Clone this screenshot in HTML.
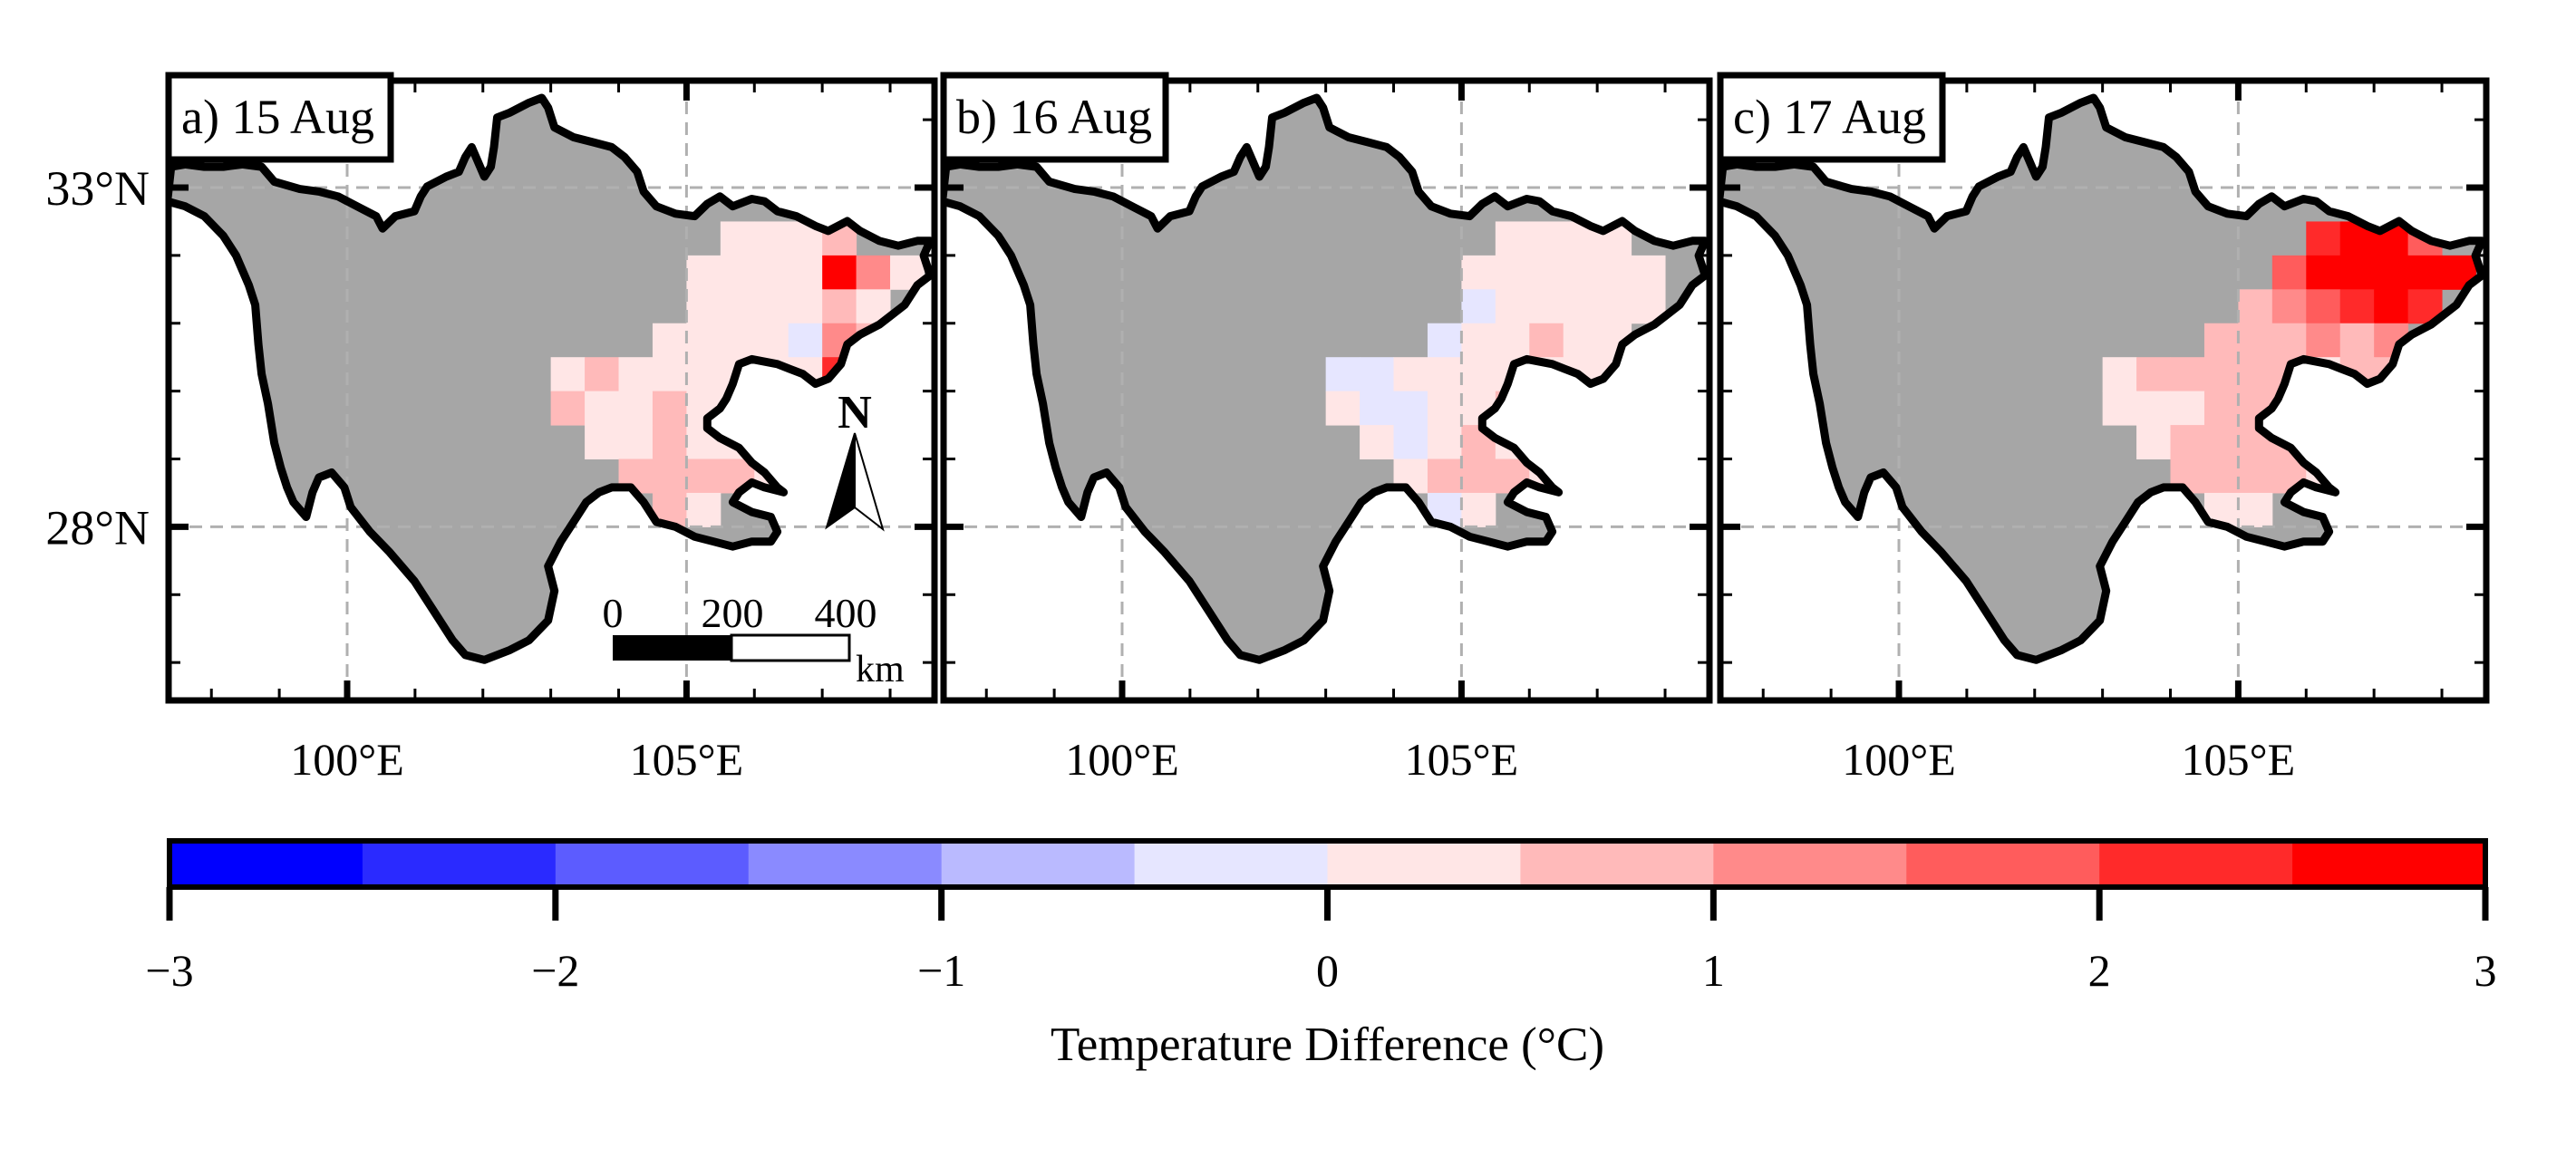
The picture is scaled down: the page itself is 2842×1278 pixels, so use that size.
<!DOCTYPE html>
<html><head><meta charset="utf-8">
<style>
html,body{margin:0;padding:0;background:#fff;}
svg{display:block;font-family:"Liberation Serif","DejaVu Serif",serif;}
</style></head>
<body>
<svg id="fig" width="2842" height="1278" viewBox="0 0 2842 1278" xmlns="http://www.w3.org/2000/svg"></svg>
<script>
// ---- data ----
const cellLons = [103,103.5,104,104.5,105,105.5,106,106.5,107,107.5,108,108.5];
const cellLats = [32.5,32,31.5,31,30.5,30,29.5,29,28.5];
const n = null;
const panelTitles = ["a) 15 Aug","b) 16 Aug","c) 17 Aug"];
const valuesA = [
 [n,n,n,n,n,0.2,0.2,0.3,0.8,n,n,n],
 [n,n,n,n,0.2,0.2,0.2,0.3,2.7,1.2,0.3,n],
 [n,n,n,n,0.2,0.2,0.2,0.3,0.8,0.3,n,n],
 [n,n,n,0.2,0.3,0.2,0.2,-0.2,1.3,0.8,n,n],
 [0.3,0.6,0.3,0.2,0.2,0.3,0.2,0.3,2.2,n,n,n],
 [0.6,0.3,0.2,0.6,0.2,0.3,0.2,n,n,n,n,n],
 [n,0.2,0.3,0.6,0.3,0.2,0.6,n,n,n,n,n],
 [n,n,0.6,0.6,0.6,0.7,0.3,n,n,n,n,n],
 [n,n,n,0.6,0.3,n,n,n,n,n,n,n]];
const valuesB = [
 [n,n,n,n,n,0.2,0.2,0.2,0.2,n,n,n],
 [n,n,n,n,0.2,0.2,0.2,0.2,0.2,0.2,n,n],
 [n,n,n,n,-0.2,0.2,0.2,0.2,0.2,0.2,n,n],
 [n,n,n,-0.2,0.2,0.2,0.6,0.2,0.2,n,n,n],
 [-0.2,-0.2,0.2,0.2,0.2,0.2,0.2,0.2,0.2,n,n,n],
 [0.2,-0.2,-0.2,0.2,0.2,0.6,0.2,n,n,n,n,n],
 [n,0.2,-0.2,0.2,0.6,0.2,0.2,n,n,n,n,n],
 [n,n,0.2,0.6,0.6,0.6,0.2,n,n,n,n,n],
 [n,n,n,-0.2,0.2,n,n,n,n,n,n,n]];
const valuesC = [
 [n,n,n,n,n,n,2.2,2.7,2.7,1.7,n,n],
 [n,n,n,n,n,1.7,2.7,2.7,2.7,2.7,2.7,n],
 [n,n,n,n,0.8,1.2,1.7,2.2,2.7,2.2,n,n],
 [n,n,n,0.6,0.8,0.6,1.2,0.6,1.2,n,n,n],
 [0.3,0.6,0.6,0.6,0.6,0.6,0.3,0.6,0.6,n,n,n],
 [0.2,0.3,0.3,0.6,0.6,0.6,0.3,n,n,n,n,n],
 [n,0.3,0.6,0.6,0.8,0.6,0.3,n,n,n,n,n],
 [n,n,0.6,0.6,0.8,0.6,0.3,n,n,n,n,n],
 [n,n,n,0.2,0.3,n,n,n,n,n,n,n]];
const panelValues = [valuesA,valuesB,valuesC];
const cbTicks = [-3,-2,-1,0,1,2,3];
const cbTickLabels = ["\u22123","\u22122","\u22121","0","1","2","3"];
const binColors = ['#0000ff','#2a2aff','#5c5cff','#8a8aff','#babaff','#e6e6ff','#ffe6e6','#ffbaba','#ff8a8a','#ff5c5c','#ff2a2a','#ff0000'];
// province boundary trace (basemap), traced units converted to lon/lat below
const outlineTrace = [[268,340],[290,335],[320,340],[350,340],[380,335],[410,340],[430,370],[470,385],[500,390],[530,400],[560,420],[590,440],[600,465],[620,440],[650,430],[660,400],[670,380],[700,360],[720,350],[730,320],[740,300],[750,330],[760,360],[770,340],[775,300],[780,240],[800,230],[830,210],[850,200],[860,220],[870,260],[900,280],[930,290],[960,300],[980,320],[1000,350],[1010,390],[1030,420],[1060,435],[1090,440],[1110,415],[1130,400],[1150,420],[1180,405],[1200,410],[1220,430],[1250,440],[1280,460],[1300,470],[1330,450],[1350,470],[1380,490],[1410,500],[1440,490],[1460,490],[1450,520],[1460,560],[1440,580],[1420,620],[1400,640],[1380,660],[1350,680],[1330,700],[1320,740],[1300,770],[1280,780],[1260,760],[1240,750],[1220,740],[1180,730],[1160,740],[1150,780],[1140,810],[1130,830],[1110,850],[1110,870],[1130,890],[1160,910],[1180,940],[1200,960],[1220,990],[1230,1000],[1200,990],[1180,980],[1160,1000],[1150,1020],[1180,1040],[1210,1050],[1220,1080],[1210,1100],[1180,1100],[1150,1110],[1120,1100],[1090,1090],[1060,1070],[1030,1060],[1010,1020],[990,990],[960,990],[940,1000],[920,1020],[900,1060],[880,1100],[860,1150],[870,1200],[860,1260],[830,1300],[800,1320],[760,1340],[730,1330],[710,1300],[680,1240],[650,1180],[610,1120],[580,1080],[550,1030],[540,990],[520,960],[500,970],[490,1000],[480,1050],[460,1020],[450,990],[440,950],[430,900],[420,820],[410,760],[405,700],[400,620],[390,580],[370,520],[350,480],[320,440],[290,420],[262,410]];
const outlineLonLat = outlineTrace.map(p=>[100+(p[0]-544.4)/106.6, 33-(p[1]-382)/137.6]);

// ---- layout ----
const NS="http://www.w3.org/2000/svg";
const svg=document.getElementById('fig');
const panelLefts=[186,1041,1898], PW=845, PT=89, PH=684;
const degPx=374.4;
function xScale(i,lon){return panelLefts[i]+197+(lon-100)*degPx/5;}
function yScale(lat){return 207-(lat-33)*degPx/5;}
function colorFor(v){let k=Math.floor((v+3)/0.5);k=Math.max(0,Math.min(11,k));return binColors[k];}
function mk(tag,attrs,parent){const e=document.createElementNS(NS,tag);for(const k in attrs)e.setAttribute(k,attrs[k]);(parent||svg).appendChild(e);return e;}

const defs=mk('defs',{});
panelValues.forEach((vals,i)=>{
  const g=mk('g',{});
  
  
  const cp=mk('clipPath',{id:'clipP'+i},defs);
  mk('rect',{x:panelLefts[i],y:PT,width:PW,height:PH},cp);
  const pts=outlineLonLat.map(p=>xScale(i,p[0]).toFixed(1)+','+yScale(p[1]).toFixed(1)).join(' ');
  const cp2=mk('clipPath',{id:'clipS'+i},defs);
  mk('polygon',{points:pts},cp2);
  const inner=mk('g',{'clip-path':'url(#clipP'+i+')'},g);
  const land=mk('polygon',{points:pts,fill:'#a6a6a6'},inner);
  
  
  const cells=mk('g',{'clip-path':'url(#clipS'+i+')'},inner);
  vals.forEach((row,r)=>row.forEach((v,c)=>{
    if(v===null)return;
    const x0=xScale(i,cellLons[c]), x1=xScale(i,cellLons[c]+0.5);
    const y0=yScale(cellLats[r]), y1=yScale(cellLats[r]-0.5);
    const rc=mk('rect',{x:x0,y:y0,width:x1-x0+0.5,height:y1-y0+0.5,fill:colorFor(v)},cells);
    
    
  }));
  [100,105].forEach(lon=>{const l=mk('line',{x1:xScale(i,lon),x2:xScale(i,lon),y1:PT,y2:PT+PH,stroke:'#b0b0b0','stroke-width':3,'stroke-dasharray':'14,9'},inner);
    });
  [28,33].forEach(lat=>{const l=mk('line',{x1:panelLefts[i],x2:panelLefts[i]+PW,y1:yScale(lat),y2:yScale(lat),stroke:'#b0b0b0','stroke-width':3,'stroke-dasharray':'14,9'},inner);
    });
  const ol=mk('polygon',{points:pts,fill:'none',stroke:'#000','stroke-width':9,'stroke-linejoin':'round'},inner);
  
  
  const L=panelLefts[i],R=L+PW,B=PT+PH;
  for(let lon=98;lon<=108;lon++){const x=xScale(i,lon);const maj=lon%5===0;const len=maj?22:13,w=maj?7:3;
    mk('line',{x1:x,x2:x,y1:B,y2:B-len,stroke:'#000','stroke-width':w},g);
    mk('line',{x1:x,x2:x,y1:PT,y2:PT+len,stroke:'#000','stroke-width':w},g);}
  for(let lat=26;lat<=34;lat++){const y=yScale(lat);const maj=(lat===28||lat===33);const len=maj?22:13,w=maj?7:3;
    mk('line',{x1:L,x2:L+len,y1:y,y2:y,stroke:'#000','stroke-width':w},g);
    mk('line',{x1:R,x2:R-len,y1:y,y2:y,stroke:'#000','stroke-width':w},g);}
  mk('rect',{x:L,y:PT,width:PW,height:PH,fill:'none',stroke:'#000','stroke-width':7},g);
  const tb=mk('g',{},g);
  
  
  mk('rect',{x:L,y:PT-6,width:245,height:93,fill:'#fff',stroke:'#000','stroke-width':7},tb);
  const t=mk('text',{x:L+14,y:PT+58,'font-size':54,fill:'#000'},tb);t.textContent=panelTitles[i];
  [100,105].forEach(lon=>{const tx=mk('text',{x:xScale(i,lon),y:855,'font-size':50,'text-anchor':'middle'},g);tx.textContent=lon+'°E';
    });
});
[[33,'33°N'],[28,'28°N']].forEach(d=>{const tx=mk('text',{x:165,y:yScale(d[0])+19,'font-size':54,'text-anchor':'end'});tx.textContent=d[1];
  });

const sb=mk('g',{});


mk('rect',{x:676,y:701,width:131,height:28,fill:'#000'},sb);
mk('rect',{x:807,y:701,width:130,height:28,fill:'#fff',stroke:'#000','stroke-width':3},sb);
[[676,'0'],[808,'200'],[933,'400']].forEach(d=>{const t=mk('text',{x:d[0],y:692,'font-size':46,'text-anchor':'middle'},sb);t.textContent=d[1];});
const km=mk('text',{x:944,y:752,'font-size':42},sb);km.textContent='km';
const na=mk('g',{});


const nt=mk('text',{x:943,y:472,'font-size':52,'font-weight':'bold','text-anchor':'middle'},na);nt.textContent='N';
mk('polygon',{points:'943,478 912,582 943,560',fill:'#000',stroke:'#000','stroke-width':2},na);
mk('polygon',{points:'943,478 974,584 943,560',fill:'#fff',stroke:'#000','stroke-width':2},na);

const cb=mk('g',{});


const cbL=187,cbR=2742,cbT=928,cbB=979;
function cbX(v){return cbL+(v+3)/6*(cbR-cbL);}
binColors.forEach((c,k)=>{const v=-3+k*0.5;const r=mk('rect',{x:cbX(v),y:cbT,width:cbX(v+0.5)-cbX(v)+0.5,height:cbB-cbT,fill:c},cb);
  });
mk('rect',{x:cbL,y:cbT,width:cbR-cbL,height:cbB-cbT,fill:'none',stroke:'#000','stroke-width':6},cb);
cbTicks.forEach((v,k)=>{mk('line',{x1:cbX(v),x2:cbX(v),y1:cbB,y2:1016,stroke:'#000','stroke-width':7},cb);
  const t=mk('text',{x:cbX(v),y:1088,'font-size':50,'text-anchor':'middle'},cb);t.textContent=cbTickLabels[k];
  });
const ct=mk('text',{x:(cbL+cbR)/2,y:1170,'font-size':53,'text-anchor':'middle'});
ct.textContent='Temperature Difference (°C)';


</script>
</body></html>
